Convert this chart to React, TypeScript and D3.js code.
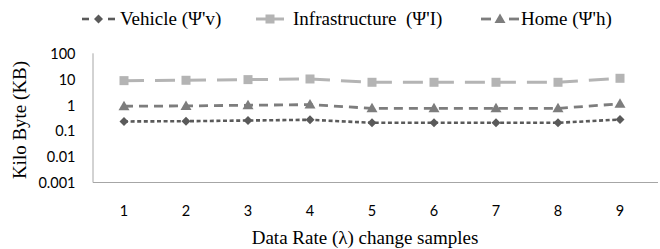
import React from 'react';
import * as d3 from 'd3';

const samples = ['1', '2', '3', '4', '5', '6', '7', '8', '9'];
const vehicle = [0.24, 0.246, 0.262, 0.279, 0.213, 0.213, 0.213, 0.213, 0.286];
const infrastructure = [9.4, 9.7, 10.3, 10.9, 8.1, 8.1, 8.1, 8.1, 11.6];
const home = [0.94, 0.97, 1.03, 1.09, 0.78, 0.78, 0.78, 0.78, 1.17];
const yTicks = [100, 10, 1, 0.1, 0.01, 0.001];
const yTickLabels = ['100', '10', '1', '0.1', '0.01', '0.001'];

const W = 660;
const H = 249;
const left = 93;
const top = 54.3;
const bottom = 182.5;
const serif = "'Liberation Serif', 'Times New Roman', 'DejaVu Serif', serif";
const sans = "Lato, 'Liberation Sans', sans-serif";

const series = [
  { name: "Vehicle (\u03A8'v)", values: vehicle, color: '#5a5a5a', dash: '4,2.6', width: 2.6, marker: 'diamond' },
  { name: "Infrastructure\u00a0 (\u03A8'I)", values: infrastructure, color: '#b4b4b4', dash: '20,11', width: 3, marker: 'square' },
  { name: "Home (\u03A8'h)", values: home, color: '#7d7d7d', dash: '9,6', width: 2.8, marker: 'triangle' },
];

function Marker({ kind, x, y, color }: { kind: string; x: number; y: number; color: string }) {
  if (kind === 'square') return <rect x={x - 4.5} y={y - 4.5} width={9} height={9} fill={color} />;
  if (kind === 'triangle') return <path d={`M${x},${y - 5.5}L${x + 5.5},${y + 4}L${x - 5.5},${y + 4}Z`} fill={color} />;
  return <path d={`M${x},${y - 4.5}L${x + 4.5},${y}L${x},${y + 4.5}L${x - 4.5},${y}Z`} fill={color} />;
}

export default function App() {
  const x = d3.scaleBand().domain(samples).range([left, left + 62 * 9]);
  const y = d3.scaleLog().domain([0.001, 100]).range([bottom, top]);
  const cx = (d: string) => (x(d) as number) + x.bandwidth() / 2;
  const line = d3.line<number>().x((_, i) => cx(samples[i])).y((v) => y(v));

  const ly = 19;
  // legend symbol start/end and text start
  const legendItems = [
    { sx: 82, ex: 115, tx: 120 },
    { sx: 256, ex: 284, tx: 293 },
    { sx: 481, ex: 519, tx: 521 },
  ];

  return (
    <svg width={W} height={H} style={{ position: 'absolute', left: 0, top: 0 }}>
      <rect width={W} height={H} fill="#fff" />
      {/* axes */}
      <line x1={left} x2={left} y1={top - 1} y2={bottom} stroke="#a6a6a6" strokeWidth={1} />
      <line x1={left} x2={658} y1={bottom} y2={bottom} stroke="#a6a6a6" strokeWidth={1} />
      {yTicks.map((t, i) => (
        <text key={t} x={75.5} y={y(t)} dy="0.35em" textAnchor="end" fontFamily={sans} fontSize={14.5} fill="#000">
          {yTickLabels[i]}
        </text>
      ))}
      {samples.map((s) => (
        <text key={s} x={cx(s)} y={211} dy="0.35em" textAnchor="middle" fontFamily={sans} fontSize={14.5} fill="#000">
          {s}
        </text>
      ))}
      <text x={365} y={237} dy="0.35em" textAnchor="middle" fontFamily={serif} fontSize={19}>
        Data Rate (λ) change samples
      </text>
      <text transform="translate(19,120) rotate(-90)" dy="0.35em" textAnchor="middle" fontFamily={serif} fontSize={19}>
        Kilo Byte (KB)
      </text>
      {/* series */}
      {series.map((s) => (
        <g key={s.name}>
          <path d={line(s.values) || ''} fill="none" stroke={s.color} strokeWidth={s.width} strokeDasharray={s.dash} />
          {s.values.map((v, i) => (
            <Marker key={i} kind={s.marker} x={cx(samples[i])} y={y(v)} color={s.color} />
          ))}
        </g>
      ))}
      {/* legend */}
      {series.map((s, i) => {
        const it = legendItems[i];
        const mid = (it.sx + it.ex) / 2;
        return (
          <g key={s.name}>
            {i === 1 ? (
              <line x1={it.sx} x2={it.ex} y1={ly} y2={ly} stroke={s.color} strokeWidth={s.width} />
            ) : (
              <>
                <line x1={it.sx} x2={it.sx + (i === 0 ? 7 : 10)} y1={ly} y2={ly} stroke={s.color} strokeWidth={s.width} />
                <line x1={it.ex - (i === 0 ? 7 : 10)} x2={it.ex} y1={ly} y2={ly} stroke={s.color} strokeWidth={s.width} />
              </>
            )}
            <Marker kind={s.marker} x={mid} y={ly} color={s.color} />
            <text x={it.tx} y={ly} dy="0.33em" fontFamily={serif} fontSize={19}>
              {s.name}
            </text>
          </g>
        );
      })}
    </svg>
  );
}
